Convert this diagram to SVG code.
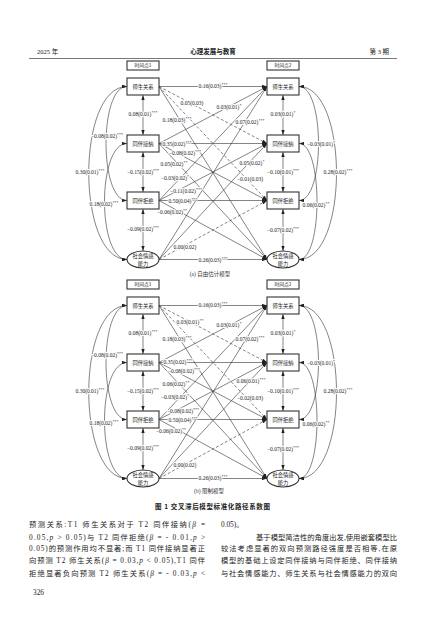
<svg xmlns="http://www.w3.org/2000/svg" width="427" height="624" viewBox="0 0 427 624">
<defs>
<style>
.nb{fill:#fff;stroke:#333;stroke-width:1.1}
.nt{font-family:"Noto Sans CJK SC",sans-serif;font-size:5.3px;fill:#222;text-anchor:middle}
.tt{font-family:"Noto Sans CJK SC",sans-serif;font-size:4.8px;fill:#222;text-anchor:middle}
.ln{fill:none;stroke:#333;stroke-width:0.6}
.ar{marker-end:url(#ah)}
.dd{marker-start:url(#ah);marker-end:url(#ah)}
.ds{stroke-dasharray:3 2}
.lb{font-family:"Liberation Serif",serif;font-size:5.5px;fill:#222;text-anchor:middle;stroke:#fff;stroke-width:2;paint-order:stroke;stroke-linejoin:round}
.sp{font-size:4px}
.pl{font-family:"Liberation Serif","Noto Sans CJK SC",serif;font-size:5.5px;fill:#333;text-anchor:middle}
.hd{font-family:"Liberation Serif","Noto Sans CJK SC",serif;font-size:6.5px;fill:#222}
.bt{font-family:"Liberation Serif","Noto Sans CJK SC",serif;font-size:7.3px;fill:#222}
.it{font-style:italic}
</style>
<marker id="ah" viewBox="0 0 6 4" refX="6" refY="2" markerWidth="5" markerHeight="3.4" markerUnits="userSpaceOnUse" orient="auto-start-reverse"><path d="M0,0 L6,2 L0,4 z" fill="#222"/></marker>
</defs>

<g id="header">
<text class="hd" x="37" y="53.5">2025 年</text>
<text class="hd" x="213" y="53.5" text-anchor="middle" font-weight="bold">心理发展与教育</text>
<text class="hd" x="389" y="53.5" text-anchor="end">第 3 期</text>
<line x1="29" y1="58.5" x2="397" y2="58.5" stroke="#555" stroke-width="0.8"/>
</g>

<g id="panel-a">
<g id="connectors-a">
<path class="ln ar" d="M159,86.5 L267,86.5"/>
<path class="ln ar ds" d="M159,86.5 L267,143.5"/>
<path class="ln ar ds" d="M159,86.5 L267,200.5"/>
<path class="ln ar" d="M159,86.5 L267,259.5"/>
<path class="ln ar" d="M159,143.5 L267,86.5"/>
<path class="ln ar" d="M159,143.5 L267,143.5"/>
<path class="ln ar" d="M159,143.5 L267,200.5"/>
<path class="ln ar" d="M159,143.5 L267,259.5"/>
<path class="ln ar" d="M159,200.5 L267,86.5"/>
<path class="ln ar" d="M159,200.5 L267,143.5"/>
<path class="ln ar" d="M159,200.5 L267,200.5"/>
<path class="ln ar" d="M159,200.5 L267,259.5"/>
<path class="ln ar" d="M159,259.5 L267,86.5"/>
<path class="ln ar" d="M159,259.5 L267,143.5"/>
<path class="ln ar ds" d="M159,259.5 L267,200.5"/>
<path class="ln ar" d="M159,259.5 L267,259.5"/>
<path class="ln dd" d="M143,95 L143,135"/>
<path class="ln dd" d="M143,152 L143,192"/>
<path class="ln dd" d="M143,209 L143,251"/>
<path class="ln dd" d="M283,95 L283,135"/>
<path class="ln dd" d="M283,152 L283,192"/>
<path class="ln dd" d="M283,209 L283,251"/>
<path class="ln dd" d="M127,86.5 C76,86.5 76,259.5 127,259.5"/>
<path class="ln dd" d="M127,86.5 C99,86.5 99,200.5 127,200.5"/>
<path class="ln dd" d="M127,143.5 C97,143.5 97,259.5 127,259.5"/>
<path class="ln dd" d="M299,86.5 C349,86.5 349,259.5 299,259.5"/>
<path class="ln dd" d="M299,86.5 C325,86.5 325,200.5 299,200.5"/>
<path class="ln dd" d="M299,143.5 C323,143.5 323,259.5 299,259.5"/>
</g>
<g id="labels-a">
<text class="lb" x="213" y="88.4">0.16(0.03)<tspan class="sp" dy="-2">***</tspan></text>
<text class="lb" x="192" y="104.9">0.05(0.03)</text>
<text class="lb" x="177" y="121.9">0.18(0.03)<tspan class="sp" dy="-2">***</tspan></text>
<text class="lb" x="229" y="108.9">0.03(0.01)<tspan class="sp" dy="-2">*</tspan></text>
<text class="lb" x="250" y="123.9">0.07(0.02)<tspan class="sp" dy="-2">***</tspan></text>
<text class="lb" x="177" y="145.9">0.35(0.02)<tspan class="sp" dy="-2">***</tspan></text>
<text class="lb" x="185" y="155.4">−0.08(0.02)<tspan class="sp" dy="-2">***</tspan></text>
<text class="lb" x="174" y="165.9">0.05(0.02)<tspan class="sp" dy="-2">**</tspan></text>
<text class="lb" x="175" y="179.9">−0.03(0.02)<tspan class="sp" dy="-2">*</tspan></text>
<text class="lb" x="186" y="192.9">−0.11(0.02)<tspan class="sp" dy="-2">***</tspan></text>
<text class="lb" x="183" y="202.9">0.50(0.04)<tspan class="sp" dy="-2">***</tspan></text>
<text class="lb" x="172" y="213.9">−0.06(0.02)<tspan class="sp" dy="-2">**</tspan></text>
<text class="lb" x="252" y="164.9">0.05(0.02)<tspan class="sp" dy="-2">*</tspan></text>
<text class="lb" x="250" y="180.9">−0.01(0.03)</text>
<text class="lb" x="185" y="248.9">0.00(0.02)</text>
<text class="lb" x="213" y="261.9">0.26(0.03)<tspan class="sp" dy="-2">***</tspan></text>
<text class="lb" x="143" y="115.9">0.08(0.01)<tspan class="sp" dy="-2">***</tspan></text>
<text class="lb" x="143" y="173.9">−0.15(0.02)<tspan class="sp" dy="-2">***</tspan></text>
<text class="lb" x="143" y="230.9">−0.09(0.02)<tspan class="sp" dy="-2">***</tspan></text>
<text class="lb" x="283" y="115.9">0.03(0.01)<tspan class="sp" dy="-2">*</tspan></text>
<text class="lb" x="283" y="173.9">−0.10(0.01)<tspan class="sp" dy="-2">***</tspan></text>
<text class="lb" x="283" y="231.9">−0.07(0.02)<tspan class="sp" dy="-2">***</tspan></text>
<text class="lb" x="107" y="137.9">−0.08(0.02)<tspan class="sp" dy="-2">***</tspan></text>
<text class="lb" x="90" y="173.9">0.30(0.01)<tspan class="sp" dy="-2">***</tspan></text>
<text class="lb" x="104" y="205.9">0.18(0.02)<tspan class="sp" dy="-2">***</tspan></text>
<text class="lb" x="321" y="145.9">−0.03(0.01)<tspan class="sp" dy="-2">*</tspan></text>
<text class="lb" x="338" y="173.9">0.28(0.02)<tspan class="sp" dy="-2">***</tspan></text>
<text class="lb" x="316" y="206.9">0.06(0.02)<tspan class="sp" dy="-2">**</tspan></text>
</g>
<g id="a-time1"><rect class="nb" x="127" y="61" width="32" height="9"/><text class="tt" x="143" y="67.3">时间点1</text></g>
<g id="a-time2"><rect class="nb" x="267" y="61" width="32" height="9"/><text class="tt" x="283" y="67.3">时间点2</text></g>
<g id="a-s1"><rect class="nb" x="127" y="78" width="32" height="17"/><text class="nt" x="143" y="88.5">师生关系</text></g>
<g id="a-a1"><rect class="nb" x="127" y="135" width="32" height="17"/><text class="nt" x="143" y="145.5">同伴接纳</text></g>
<g id="a-r1"><rect class="nb" x="127" y="192" width="32" height="17"/><text class="nt" x="143" y="202.5">同伴拒绝</text></g>
<g id="a-e1"><ellipse class="nb" cx="143" cy="259.5" rx="16" ry="8.5"/><text class="nt" x="143" y="258">社会情感</text><text class="nt" x="143" y="265.5">能力</text></g>
<g id="a-s2"><rect class="nb" x="267" y="78" width="32" height="17"/><text class="nt" x="283" y="88.5">师生关系</text></g>
<g id="a-a2"><rect class="nb" x="267" y="135" width="32" height="17"/><text class="nt" x="283" y="145.5">同伴接纳</text></g>
<g id="a-r2"><rect class="nb" x="267" y="192" width="32" height="17"/><text class="nt" x="283" y="202.5">同伴拒绝</text></g>
<g id="a-e2"><ellipse class="nb" cx="283" cy="259.5" rx="16" ry="8.5"/><text class="nt" x="283" y="258">社会情感</text><text class="nt" x="283" y="265.5">能力</text></g>
<text class="pl" x="210" y="275.5">(a) 自由估计模型</text>
</g>

<g id="panel-b" transform="translate(0,219)">
<g id="connectors-b">
<path class="ln ar" d="M159,86.5 L267,86.5"/>
<path class="ln ar ds" d="M159,86.5 L267,143.5"/>
<path class="ln ar ds" d="M159,86.5 L267,200.5"/>
<path class="ln ar" d="M159,86.5 L267,259.5"/>
<path class="ln ar" d="M159,143.5 L267,86.5"/>
<path class="ln ar" d="M159,143.5 L267,143.5"/>
<path class="ln ar" d="M159,143.5 L267,200.5"/>
<path class="ln ar" d="M159,143.5 L267,259.5"/>
<path class="ln ar" d="M159,200.5 L267,86.5"/>
<path class="ln ar" d="M159,200.5 L267,143.5"/>
<path class="ln ar" d="M159,200.5 L267,200.5"/>
<path class="ln ar" d="M159,200.5 L267,259.5"/>
<path class="ln ar" d="M159,259.5 L267,86.5"/>
<path class="ln ar" d="M159,259.5 L267,143.5"/>
<path class="ln ar ds" d="M159,259.5 L267,200.5"/>
<path class="ln ar" d="M159,259.5 L267,259.5"/>
<path class="ln dd" d="M143,95 L143,135"/>
<path class="ln dd" d="M143,152 L143,192"/>
<path class="ln dd" d="M143,209 L143,251"/>
<path class="ln dd" d="M283,95 L283,135"/>
<path class="ln dd" d="M283,152 L283,192"/>
<path class="ln dd" d="M283,209 L283,251"/>
<path class="ln dd" d="M127,86.5 C76,86.5 76,259.5 127,259.5"/>
<path class="ln dd" d="M127,86.5 C99,86.5 99,200.5 127,200.5"/>
<path class="ln dd" d="M127,143.5 C97,143.5 97,259.5 127,259.5"/>
<path class="ln dd" d="M299,86.5 C349,86.5 349,259.5 299,259.5"/>
<path class="ln dd" d="M299,86.5 C325,86.5 325,200.5 299,200.5"/>
<path class="ln dd" d="M299,143.5 C323,143.5 323,259.5 299,259.5"/>
</g>
<g id="labels-b">
<text class="lb" x="213" y="87.9">0.16(0.03)<tspan class="sp" dy="-2">***</tspan></text>
<text class="lb" x="190" y="104.9">0.03(0.01)<tspan class="sp" dy="-2">**</tspan></text>
<text class="lb" x="177" y="121.9">0.18(0.03)<tspan class="sp" dy="-2">***</tspan></text>
<text class="lb" x="229" y="107.9">0.03(0.01)<tspan class="sp" dy="-2">*</tspan></text>
<text class="lb" x="250" y="121.9">0.07(0.02)<tspan class="sp" dy="-2">***</tspan></text>
<text class="lb" x="178" y="144.9">0.35(0.02)<tspan class="sp" dy="-2">***</tspan></text>
<text class="lb" x="184" y="153.9">−0.08(0.02)<tspan class="sp" dy="-2">***</tspan></text>
<text class="lb" x="176" y="166.9">0.06(0.02)<tspan class="sp" dy="-2">**</tspan></text>
<text class="lb" x="175" y="179.9">−0.03(0.02)<tspan class="sp" dy="-2">*</tspan></text>
<text class="lb" x="183" y="193.9">−0.08(0.02)<tspan class="sp" dy="-2">***</tspan></text>
<text class="lb" x="183" y="202.9">0.50(0.04)<tspan class="sp" dy="-2">***</tspan></text>
<text class="lb" x="171" y="213.9">−0.06(0.02)<tspan class="sp" dy="-2">**</tspan></text>
<text class="lb" x="251" y="163.9">0.06(0.01)<tspan class="sp" dy="-2">***</tspan></text>
<text class="lb" x="250" y="180.9">−0.02(0.03)</text>
<text class="lb" x="185" y="247.9">0.00(0.02)</text>
<text class="lb" x="213" y="260.9">0.26(0.03)<tspan class="sp" dy="-2">***</tspan></text>
<text class="lb" x="143" y="115.9">0.08(0.01)<tspan class="sp" dy="-2">***</tspan></text>
<text class="lb" x="143" y="173.9">−0.15(0.02)<tspan class="sp" dy="-2">***</tspan></text>
<text class="lb" x="143" y="230.9">−0.09(0.02)<tspan class="sp" dy="-2">***</tspan></text>
<text class="lb" x="283" y="115.9">0.03(0.01)<tspan class="sp" dy="-2">*</tspan></text>
<text class="lb" x="283" y="173.9">−0.10(0.01)<tspan class="sp" dy="-2">***</tspan></text>
<text class="lb" x="283" y="231.9">−0.07(0.02)<tspan class="sp" dy="-2">***</tspan></text>
<text class="lb" x="107" y="137.9">−0.08(0.02)<tspan class="sp" dy="-2">***</tspan></text>
<text class="lb" x="90" y="173.9">0.30(0.01)<tspan class="sp" dy="-2">***</tspan></text>
<text class="lb" x="104" y="205.9">0.18(0.02)<tspan class="sp" dy="-2">***</tspan></text>
<text class="lb" x="321" y="145.9">−0.03(0.01)<tspan class="sp" dy="-2">*</tspan></text>
<text class="lb" x="338" y="173.9">0.28(0.02)<tspan class="sp" dy="-2">***</tspan></text>
<text class="lb" x="316" y="206.9">0.06(0.02)<tspan class="sp" dy="-2">**</tspan></text>
</g>
<g id="b-time1"><rect class="nb" x="127" y="61" width="32" height="9"/><text class="tt" x="143" y="67.3">时间点1</text></g>
<g id="b-time2"><rect class="nb" x="267" y="61" width="32" height="9"/><text class="tt" x="283" y="67.3">时间点2</text></g>
<g id="b-s1"><rect class="nb" x="127" y="78" width="32" height="17"/><text class="nt" x="143" y="88.5">师生关系</text></g>
<g id="b-a1"><rect class="nb" x="127" y="135" width="32" height="17"/><text class="nt" x="143" y="145.5">同伴接纳</text></g>
<g id="b-r1"><rect class="nb" x="127" y="192" width="32" height="17"/><text class="nt" x="143" y="202.5">同伴拒绝</text></g>
<g id="b-e1"><ellipse class="nb" cx="143" cy="259.5" rx="16" ry="8.5"/><text class="nt" x="143" y="258">社会情感</text><text class="nt" x="143" y="265.5">能力</text></g>
<g id="b-s2"><rect class="nb" x="267" y="78" width="32" height="17"/><text class="nt" x="283" y="88.5">师生关系</text></g>
<g id="b-a2"><rect class="nb" x="267" y="135" width="32" height="17"/><text class="nt" x="283" y="145.5">同伴接纳</text></g>
<g id="b-r2"><rect class="nb" x="267" y="192" width="32" height="17"/><text class="nt" x="283" y="202.5">同伴拒绝</text></g>
<g id="b-e2"><ellipse class="nb" cx="283" cy="259.5" rx="16" ry="8.5"/><text class="nt" x="283" y="258">社会情感</text><text class="nt" x="283" y="265.5">能力</text></g>
<text class="pl" x="209" y="274">(b) 限制模型</text>
</g>

<text x="212.5" y="508.5" text-anchor="middle" font-family="'Noto Sans CJK SC',sans-serif" font-size="6.5" font-weight="bold" fill="#222" textLength="115" lengthAdjust="spacing">图 1   交叉滞后模型标准化路径系数图</text>

<g id="body">
<text class="bt" x="29" y="527.3" textLength="176" lengthAdjust="spacing">预测关系:T1 师生关系对于 T2 同伴接纳(<tspan class="it">β</tspan> =</text>
<text class="bt" x="29" y="539.7" textLength="176" lengthAdjust="spacing">0.05,<tspan class="it">p</tspan> &gt; 0.05)与 T2 同伴拒绝(<tspan class="it">β</tspan> = - 0.01,<tspan class="it">p</tspan> &gt;</text>
<text class="bt" x="29" y="551" textLength="176" lengthAdjust="spacing">0.05)的预测作用均不显著;而 T1 同伴接纳显著正</text>
<text class="bt" x="29" y="563.3" textLength="176" lengthAdjust="spacing">向预测 T2 师生关系(<tspan class="it">β</tspan> = 0.03,<tspan class="it">p</tspan> &lt; 0.05),T1 同伴</text>
<text class="bt" x="29" y="576.3" textLength="176" lengthAdjust="spacing">拒绝显著负向预测 T2 师生关系(<tspan class="it">β</tspan> = - 0.03,<tspan class="it">p</tspan> &lt;</text>
<text class="bt" x="221" y="527.3">0.05)。</text>
<text class="bt" x="256" y="539.7" textLength="141" lengthAdjust="spacing">基于模型简洁性的角度出发,使用嵌套模型比</text>
<text class="bt" x="221" y="551" textLength="176" lengthAdjust="spacing">较法考虑显著的双向预测路径强度是否相等,在原</text>
<text class="bt" x="221" y="563.3" textLength="176" lengthAdjust="spacing">模型的基础上设定同伴接纳与同伴拒绝、同伴接纳</text>
<text class="bt" x="221" y="576.3" textLength="176" lengthAdjust="spacing">与社会情感能力、师生关系与社会情感能力的双向</text>
<text class="bt" x="33" y="594.5" font-size="7.5">326</text>
</g>
</svg>
